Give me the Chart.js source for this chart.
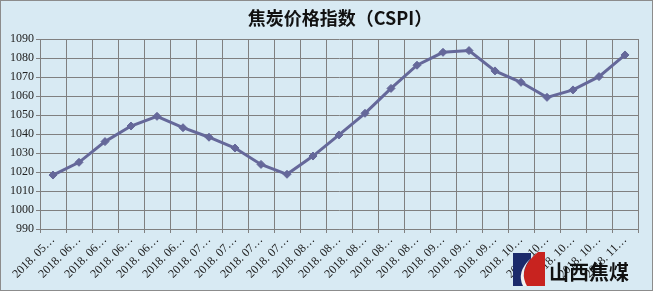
<!DOCTYPE html>
<html>
<head>
<meta charset="utf-8">
<style>
  html, body { margin: 0; padding: 0; background: #fff; }
  #wrap { width: 653px; height: 291px; position: relative; }
</style>
<script src="https://cdn.jsdelivr.net/npm/chart.js@4/dist/chart.umd.min.js"></script>
</head>
<body>
<div id="wrap"><canvas id="c" width="653" height="291"></canvas></div>
<script>
  // tick labels as shown (truncated by the source chart)
  const LABELS = [
    '2018. 05…', '2018. 06…', '2018. 06…', '2018. 06…', '2018. 06…', '2018. 06…',
    '2018. 07…', '2018. 07…', '2018. 07…', '2018. 07…',
    '2018. 08…', '2018. 08…', '2018. 08…', '2018. 08…', '2018. 08…',
    '2018. 09…', '2018. 09…', '2018. 09…',
    '2018. 10…', '2018. 10…', '2018. 10…', '2018. 10…',
    '2018. 11…'
  ];
  const CSPI = [
    1018.4, 1025.1, 1036.0, 1044.2, 1049.3, 1043.3,
    1038.3, 1032.6, 1024.0, 1018.8,
    1028.4, 1039.5, 1050.9, 1064.0, 1076.2,
    1083.0, 1083.9, 1073.2,
    1067.2, 1059.3, 1063.2, 1070.2,
    1081.6
  ];
  const Y_MIN = 990, Y_MAX = 1090, Y_STEP = 10;
  const TITLE = '焦炭价格指数（CSPI）';
  const LOGO_TEXT = '山西焦煤';

  const BG = '#d8eaf3';
  const LINE = '#65689a';
  const GRID = '#808080';
  const SERIF = "'Liberation Serif','DejaVu Serif',serif";

  const frame = {
    id: 'frame',
    beforeDraw(chart) {
      const ctx = chart.ctx;
      ctx.save();
      ctx.fillStyle = BG;
      ctx.fillRect(0, 0, chart.width, chart.height);
      ctx.strokeStyle = '#8c8c8c';
      ctx.lineWidth = 1;
      ctx.strokeRect(0.5, 0.5, chart.width - 1, chart.height - 1);
      ctx.fillStyle = '#111';
      ctx.font = "bold 18px 'Noto Sans CJK SC', sans-serif";
      ctx.textAlign = 'center';
      ctx.textBaseline = 'middle';
      ctx.fillText(TITLE, 340, 18);
      ctx.restore();
    },
    afterDraw(chart) {
      // 山西焦煤 logo, bottom right
      const ctx = chart.ctx;
      ctx.save();
      ctx.fillStyle = '#1b2a6b';
      ctx.fillRect(513, 253, 18, 33);
      ctx.fillStyle = '#c8231f';
      ctx.beginPath();
      ctx.moveTo(538, 252);
      ctx.lineTo(545, 252);
      ctx.lineTo(545, 286);
      ctx.lineTo(526, 286);
      ctx.quadraticCurveTo(518, 268, 538, 252);
      ctx.fill();
      ctx.fillStyle = '#f2f2f2';
      ctx.beginPath();
      ctx.moveTo(531, 258);
      ctx.quadraticCurveTo(519, 272, 527, 286);
      ctx.lineTo(523, 286);
      ctx.quadraticCurveTo(516, 272, 531, 258);
      ctx.fill();
      ctx.fillStyle = '#111';
      ctx.font = "bold 20px 'Noto Sans CJK SC', sans-serif";
      ctx.textAlign = 'left';
      ctx.textBaseline = 'middle';
      ctx.fillText(LOGO_TEXT, 549, 272);
      ctx.restore();
    }
  };

  new Chart(document.getElementById('c'), {
    type: 'line',
    data: {
      labels: LABELS,
      datasets: [{
        data: CSPI,
        borderColor: LINE,
        backgroundColor: LINE,
        borderWidth: 3,
        pointStyle: 'rectRot',
        pointRadius: 4,
        pointBorderWidth: 1,
        tension: 0,
      }],
    },
    options: {
      responsive: false,
      animation: false,
      layout: { padding: { left: 0, right: 15, top: 39, bottom: 0 } },
      plugins: { legend: { display: false }, tooltip: { enabled: false }, title: { display: false } },
      scales: {
        x: {
          offset: true,
          grid: { offset: true, color: GRID, lineWidth: 1, drawTicks: true, tickLength: 4 },
          border: { color: GRID },
          ticks: {
            autoSkip: false, minRotation: 45, maxRotation: 45,
            color: '#222', padding: 0,
            font: { family: SERIF, size: 12 },
          },
          afterFit(s) { s.height = 62; },
        },
        y: {
          min: Y_MIN, max: Y_MAX,
          grid: { color: GRID, lineWidth: 1, tickLength: 4 },
          border: { color: GRID },
          ticks: {
            stepSize: Y_STEP, color: '#222', padding: 2,
            font: { family: SERIF, size: 12 },
            callback: (v) => String(v),
          },
          afterFit(s) { s.width = 40; },
        },
      },
    },
    plugins: [frame],
  });
</script>
</body>
</html>
